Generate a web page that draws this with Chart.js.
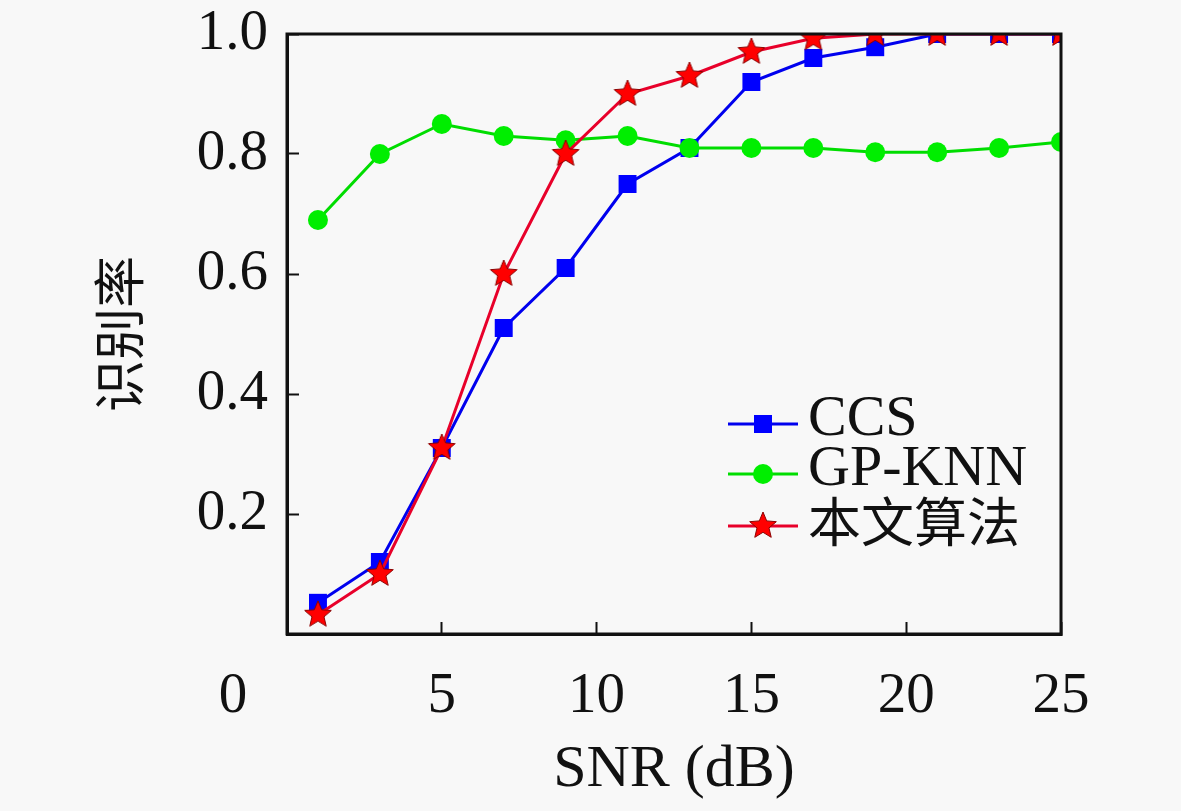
<!DOCTYPE html>
<html>
<head>
<meta charset="utf-8">
<script src="https://cdn.jsdelivr.net/npm/chart.js@4/dist/chart.umd.min.js"></script>
<style>
  html, body { margin: 0; padding: 0; background: #f8f8f8; }
  #wrap { width: 1181px; height: 811px; }
</style>
</head>
<body>
<div id="wrap"><canvas id="c" width="1181" height="811"></canvas></div>
<script>
// SNR points (dB) and recognition rate per method
const snr = [1, 3, 5, 7, 9, 11, 13, 15, 17, 19, 21, 23, 25];
const ccs = [0.052, 0.12, 0.31, 0.51, 0.61, 0.75, 0.81, 0.92, 0.96, 0.978, 1.0, 1.0, 1.0];
const gpKnn = [0.69, 0.80, 0.85, 0.83, 0.823, 0.83, 0.81, 0.81, 0.81, 0.803, 0.803, 0.81, 0.82];
const ours = [0.032, 0.10, 0.31, 0.60, 0.80, 0.90, 0.93, 0.97, 0.993, 1.0, 1.0, 1.0, 1.0];
const seriesNames = ['CCS', 'GP-KNN', '本文算法'];
const xTicks = [0, 5, 10, 15, 20, 25];
const yTicks = [0, 0.2, 0.4, 0.6, 0.8, 1.0];

const SERIF = '"Liberation Serif", "DejaVu Serif", "Noto Sans CJK SC", serif';
const CJK = '"Noto Sans CJK SC", sans-serif';

// filled five-pointed star used as point style
function makeStar(size) {
  const cv = document.createElement('canvas');
  cv.width = size; cv.height = size;
  const g = cv.getContext('2d');
  const c = size / 2, ro = size / 2 - 1, ri = ro * 0.45;
  g.beginPath();
  for (let i = 0; i < 10; i++) {
    const r = i % 2 ? ri : ro;
    const a = -Math.PI / 2 + i * Math.PI / 5;
    g.lineTo(c + r * Math.cos(a), c + r * Math.sin(a));
  }
  g.closePath();
  g.fillStyle = '#ff0000';
  g.fill();
  g.lineWidth = 1;
  g.strokeStyle = '#8a0000';
  g.stroke();
  return cv;
}
const star = makeStar(30);

const toXY = ys => snr.map((x, i) => ({ x, y: ys[i] }));

// frame, stray origin "0" label and in-plot legend
const framePlugin = {
  id: 'frame',
  afterDraw(chart) {
    const { ctx, chartArea: a } = chart;
    ctx.save();
    ctx.strokeStyle = '#111';
    ctx.lineWidth = 3;
    ctx.strokeRect(a.left, a.top, a.right - a.left, a.bottom - a.top);

    ctx.fillStyle = '#111';
    ctx.font = '57px ' + SERIF;
    ctx.textAlign = 'center';
    ctx.textBaseline = 'middle';
    ctx.fillText('0', a.left - 54, a.bottom + 63);

    const lx = a.left + 441, rows = [a.bottom - 210, a.bottom - 160, a.bottom - 108];
    const styles = [
      { color: '#0000ee', font: '58px ' + SERIF, draw: (x, y) => { ctx.fillStyle = '#0000ff'; ctx.fillRect(x - 9, y - 9, 18, 18); } },
      { color: '#00dd00', font: '58px ' + SERIF, draw: (x, y) => { ctx.fillStyle = '#00ee00'; ctx.beginPath(); ctx.arc(x, y, 10, 0, Math.PI * 2); ctx.fill(); } },
      { color: '#e8002a', font: '53px ' + CJK, draw: (x, y) => { ctx.drawImage(star, x - 15, y - 15); } },
    ];
    ctx.textAlign = 'left';
    seriesNames.forEach((name, i) => {
      const y = rows[i];
      ctx.strokeStyle = styles[i].color;
      ctx.lineWidth = 3;
      ctx.beginPath();
      ctx.moveTo(lx, y);
      ctx.lineTo(lx + 70, y);
      ctx.stroke();
      styles[i].draw(lx + 35, y);
      ctx.fillStyle = '#111';
      ctx.font = styles[i].font;
      ctx.fillText(name, lx + 80, y - 4);
    });
    ctx.restore();
  }
};

new Chart(document.getElementById('c').getContext('2d'), {
  type: 'line',
  data: {
    datasets: [
      { label: seriesNames[0], data: toXY(ccs), borderColor: '#0000ee', backgroundColor: '#0000ff',
        borderWidth: 3, pointStyle: 'rect', pointRadius: 12.7, pointBorderWidth: 0, order: 3 },
      { label: seriesNames[1], data: toXY(gpKnn), borderColor: '#00dd00', backgroundColor: '#00ee00',
        borderWidth: 3, pointStyle: 'circle', pointRadius: 10, pointBorderWidth: 0, order: 2 },
      { label: seriesNames[2], data: toXY(ours), borderColor: '#e8002a', backgroundColor: '#ff0000',
        borderWidth: 3, pointStyle: star, pointRadius: 15, order: 1 },
    ],
  },
  options: {
    responsive: false,
    animation: false,
    layout: { padding: { top: 34, right: 120, left: 0, bottom: 0 } },
    plugins: { legend: { display: false }, tooltip: { enabled: false } },
    scales: {
      x: {
        type: 'linear', min: 0, max: 25,
        afterBuildTicks: s => { s.ticks = xTicks.map(v => ({ value: v })); },
        afterFit: s => { s.height = 177; s.paddingLeft = 0; s.paddingRight = 0; },
        grid: { drawOnChartArea: false, tickLength: -12, tickWidth: 2, color: '#111' },
        border: { color: '#111', width: 3 },
        ticks: { padding: 41, color: '#111', font: { family: SERIF, size: 57 },
                 callback: v => (v === 0 ? '' : String(v)) },
        title: { display: true, text: 'SNR (dB)', color: '#111',
                 font: { family: SERIF, size: 60 }, padding: { top: 0, bottom: 5 } },
      },
      y: {
        type: 'linear', min: 0, max: 1,
        afterBuildTicks: s => { s.ticks = yTicks.map(v => ({ value: v })); },
        afterFit: s => { s.width = 287; s.paddingTop = 0; s.paddingBottom = 0; },
        grid: { drawOnChartArea: false, tickLength: -12, tickWidth: 2, color: '#111' },
        border: { color: '#111', width: 3 },
        ticks: { padding: 31, color: '#111', font: { family: SERIF, size: 57 },
                 callback: v => (v === 0 ? '' : v.toFixed(1)) },
        title: { display: true, text: '识别率', color: '#111',
                 font: { family: CJK, size: 52 }, padding: { top: 88, bottom: 0 } },
      },
    },
  },
  plugins: [framePlugin],
});
</script>
</body>
</html>
